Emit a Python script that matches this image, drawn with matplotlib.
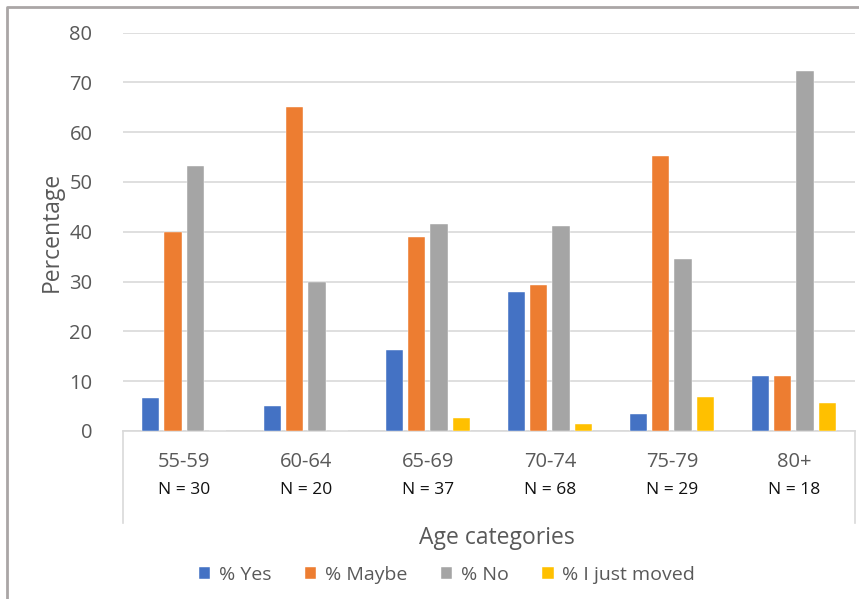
import numpy as np
import matplotlib
matplotlib.use("Agg")
import matplotlib.pyplot as plt
from matplotlib.lines import Line2D

plt.rcParams['font.family'] = ['Open Sans', 'DejaVu Sans']

# survey answers per age group (percent of respondents)
age_groups = ['55-59', '60-64', '65-69', '70-74', '75-79', '80+']
n_counts = [30, 20, 37, 68, 29, 18]
pct_yes = [6.7, 5.0, 16.2, 27.9, 3.4, 11.1]
pct_maybe = [40.0, 65.0, 39.0, 29.4, 55.2, 11.1]
pct_no = [53.3, 30.0, 41.6, 41.2, 34.5, 72.2]
pct_moved = [0.0, 0.0, 2.7, 1.5, 6.9, 5.6]

series = [pct_yes, pct_maybe, pct_no, pct_moved]
labels = ['% Yes', '% Maybe', '% No', '% I just moved']
colors = ['#4472C4', '#ED7D31', '#A5A5A5', '#FFC000']
grey_txt = '#595959'

fig = plt.figure(figsize=(8.59, 5.99), dpi=100)
ax = fig.add_axes([0.1432, 0.2805, 0.8521, 0.6652])

x = np.arange(len(age_groups))
step = 0.183
width = 0.142
for i, vals in enumerate(series):
    ax.bar(x + (i - 1.5) * step, vals, width, color=colors[i], label=labels[i],
           edgecolor='white', linewidth=0.3, zorder=3)

ax.set_xlim(-0.5, len(age_groups) - 0.5)
ax.set_ylim(0, 80)
ax.set_yticks(range(0, 81, 10))
ax.yaxis.grid(True, color='#d9d9d9', linewidth=1.2, zorder=0)
ax.tick_params(axis='y', length=0, pad=22, labelsize=14.5, labelcolor=grey_txt)
ax.set_xticks([])
for s in ['top', 'right', 'left']:
    ax.spines[s].set_visible(False)
ax.spines['bottom'].set_color('#d9d9d9')
ax.spines['bottom'].set_linewidth(1.2)

# category labels with sample sizes underneath
trans = ax.get_xaxis_transform()
for xi, g, n in zip(x, age_groups, n_counts):
    ax.text(xi, -0.078, g, transform=trans, ha='center', va='center',
            fontsize=14.5, color=grey_txt)
    ax.text(xi, -0.148, 'N = %d' % n, transform=trans, ha='center', va='center',
            fontsize=12.5, color='#111111')
for xe in [-0.5, len(age_groups) - 0.5]:
    ax.add_line(Line2D([xe, xe], [0, -0.231], transform=trans, color='#d9d9d9',
                       linewidth=1.2, clip_on=False))

fig.text(497 / 859, 1 - 538 / 599, 'Age categories', ha='center', va='center',
         fontsize=16.5, color=grey_txt)
fig.text(52 / 859, 1 - 232 / 599, 'Percentage', ha='center', va='center',
         rotation=90, fontsize=16.5, color=grey_txt)

fig.legend(loc='center', bbox_to_anchor=(447 / 859, 1 - 575 / 599), ncol=4,
           frameon=False, fontsize=14, labelcolor=grey_txt,
           handlelength=0.6, handleheight=0.6, handletextpad=0.45,
           columnspacing=1.7)

# chart frame (top and left edges)
fig.add_artist(Line2D([7 / 859, 7 / 859, 1], [0, 1 - 7 / 599, 1 - 7 / 599],
                      transform=fig.transFigure, color='#aaa6a6', linewidth=2))

fig.savefig('out.png', dpi=100)
